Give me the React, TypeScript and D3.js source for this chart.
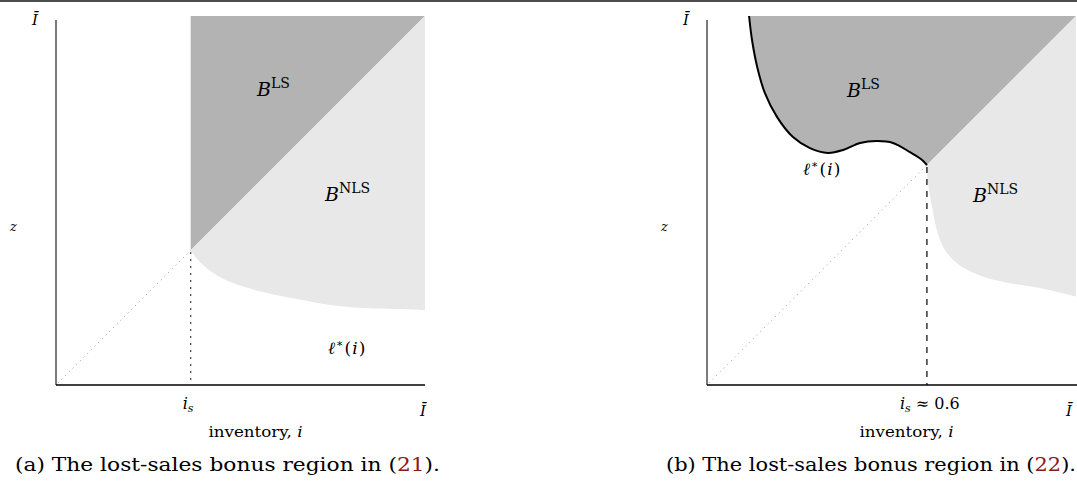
import React from "react";
import * as d3 from "d3";

// ---------- data (unit square, 0..Ī) ----------
const isA = 0.365;
const isB = 0.596;
const isBLabel = "0.6";
// Panel (a): lower boundary of B^NLS, from (i_s, i_s) to Ī
const nlsLowerA: [number, number][] = [
  [0.365, 0.365], [0.390, 0.333], [0.425, 0.304], [0.472, 0.279], [0.561, 0.252],
  [0.653, 0.233], [0.743, 0.217], [0.832, 0.209], [0.924, 0.206], [1.0, 0.203],
];
// Panel (b): ℓ*(i) boundary of B^LS
const lstarB: [number, number][] = [
  [0.114, 1.0], [0.122, 0.935], [0.136, 0.862], [0.157, 0.791], [0.190, 0.726],
  [0.233, 0.672], [0.279, 0.642], [0.328, 0.629], [0.369, 0.637], [0.415, 0.656],
  [0.461, 0.661], [0.504, 0.656], [0.550, 0.631], [0.583, 0.610], [0.596, 0.596],
];
// Panel (b): lower boundary of B^NLS
const nlsLowerB: [number, number][] = [
  [0.596, 0.596], [0.599, 0.547], [0.610, 0.482], [0.623, 0.420], [0.640, 0.374],
  [0.667, 0.339], [0.705, 0.312], [0.759, 0.290], [0.821, 0.276], [0.902, 0.263],
  [1.0, 0.240],
];

const DARK = "#b3b3b3";
const LIGHT = "#e8e8e8";
const MATH = "'DejaVu Serif', serif";
const TEXT = "'DejaVu Serif', serif";

function Panel({ x0, isVal, curveMode, caption, eq, isLabelExtra }: any) {
  const size = 369;
  const y0 = 385;
  const x = d3.scaleLinear().domain([0, 1]).range([x0, x0 + size]);
  const y = d3.scaleLinear().domain([0, 1]).range([y0, y0 - size]);
  const line = d3.line<[number, number]>().x((d) => x(d[0])).y((d) => y(d[1])).curve(d3.curveCatmullRom.alpha(0.5));
  const P = (a: number, b: number) => `${x(a)},${y(b)}`;

  let darkPath = "";
  let lightPath = "";
  let lstarPath = "";
  if (curveMode === "a") {
    darkPath = `M${P(isVal, isVal)}L${P(isVal, 1)}L${P(1, 1)}Z`;
    lightPath = `${line(nlsLowerA)}L${P(1, 1)}Z`;
  } else {
    lstarPath = line(lstarB) || "";
    darkPath = `${lstarPath}L${P(1, 1)}Z`;
    lightPath = `${line(nlsLowerB)}L${P(1, 1)}Z`;
  }
  const xr = curveMode === "a" ? x(1) : 1080;
  const lstarX = curveMode === "a" ? 328 : 803;
  const lstarY = curveMode === "a" ? 354 : 175;
  return (
    <g>
      <path d={darkPath} fill={DARK} />
      <path d={lightPath} fill={LIGHT} />
      {/* diagonal z = i below i_s */}
      <line x1={x(0.005)} y1={y(0.005)} x2={x(isVal)} y2={y(isVal)} stroke="#aaa" strokeWidth={1} strokeDasharray="1.2,4" />
      {/* vertical marker at i_s */}
      {curveMode === "a" ? (
        <line x1={x(isVal)} y1={y(isVal) + 2} x2={x(isVal)} y2={y0} stroke="#000" strokeWidth={1.2} strokeDasharray="1.5,5.5" />
      ) : (
        <line x1={x(isVal)} y1={y(isVal) + 2} x2={x(isVal)} y2={y0} stroke="#000" strokeWidth={1.2} strokeDasharray="6,6" />
      )}
      {curveMode === "b" && <path d={lstarPath} fill="none" stroke="#000" strokeWidth={2} />}
      {/* axes */}
      <line x1={x0} y1={y0 - size + 4} x2={x0} y2={y0} stroke="#222" strokeWidth={1.2} />
      <line x1={x0} y1={y0} x2={xr} y2={y0} stroke="#000" strokeWidth={1.5} />
      {/* axis labels */}
      <text x={x0 - 24} y={25} fontFamily={MATH} fontStyle="italic" fontSize={15}>Ī</text>
      <text x={x0 - 46} y={231} fontFamily={MATH} fontStyle="italic" fontSize={13}>z</text>
      <text x={x(isVal) - (isLabelExtra ? 27 : 8)} y={409} fontFamily={MATH} fontSize={16}>
        <tspan fontStyle="italic">i</tspan>
        <tspan fontStyle="italic" fontSize={11} dy={3}>s</tspan>
        {isLabelExtra && <tspan dy={-3}> ≈ {isLabelExtra}</tspan>}
      </text>
      <text x={curveMode === "a" ? x(1) - 5 : 1066} y={416} fontFamily={MATH} fontStyle="italic" fontSize={15}>Ī</text>
      <text x={x0 + size / 2 - 32} y={437} fontFamily={TEXT} fontSize={15.5} textLength={94} lengthAdjust="spacingAndGlyphs">
        inventory, <tspan fontStyle="italic">i</tspan>
      </text>
      {/* region labels */}
      {curveMode === "a" ? (
        <>
          <text x={257} y={96} fontFamily={MATH} fontSize={19}><tspan fontStyle="italic">B</tspan><tspan fontSize={14} dy={-8}>LS</tspan></text>
          <text x={325} y={201} fontFamily={MATH} fontSize={19}><tspan fontStyle="italic">B</tspan><tspan fontSize={14} dy={-8}>NLS</tspan></text>
        </>
      ) : (
        <>
          <text x={847} y={97} fontFamily={MATH} fontSize={19}><tspan fontStyle="italic">B</tspan><tspan fontSize={14} dy={-8}>LS</tspan></text>
          <text x={973} y={202} fontFamily={MATH} fontSize={19}><tspan fontStyle="italic">B</tspan><tspan fontSize={14} dy={-8}>NLS</tspan></text>
        </>
      )}
      <text x={lstarX} y={lstarY} fontFamily={MATH} fontSize={17} letterSpacing={1}>
        <tspan fontStyle="italic">ℓ</tspan><tspan fontSize={11} dy={-7}>∗</tspan><tspan dy={7}>(</tspan><tspan fontStyle="italic">i</tspan>)
      </text>
      <text x={x0 - 41} y={471} fontFamily={TEXT} fontSize={18.5} textLength={curveMode === "a" ? 425 : 410} lengthAdjust="spacingAndGlyphs">
        {caption}(<tspan fill="#8b1a1a">{eq}</tspan>).
      </text>
    </g>
  );
}

export default function App() {
  return (
    <div style={{ position: "absolute", left: 0, top: 0 }}>
      <svg width={1077} height={482} style={{ display: "block", background: "#fff" }}>
        <rect x={0} y={0} width={1077} height={2} fill="#4d4d4d" />
        <Panel x0={56} isVal={isA} curveMode="a" caption="(a) The lost-sales bonus region in " eq="21" />
        <Panel x0={707} isVal={isB} curveMode="b" caption="(b) The lost-sales bonus region in " eq="22" isLabelExtra={isBLabel} />
      </svg>
    </div>
  );
}
